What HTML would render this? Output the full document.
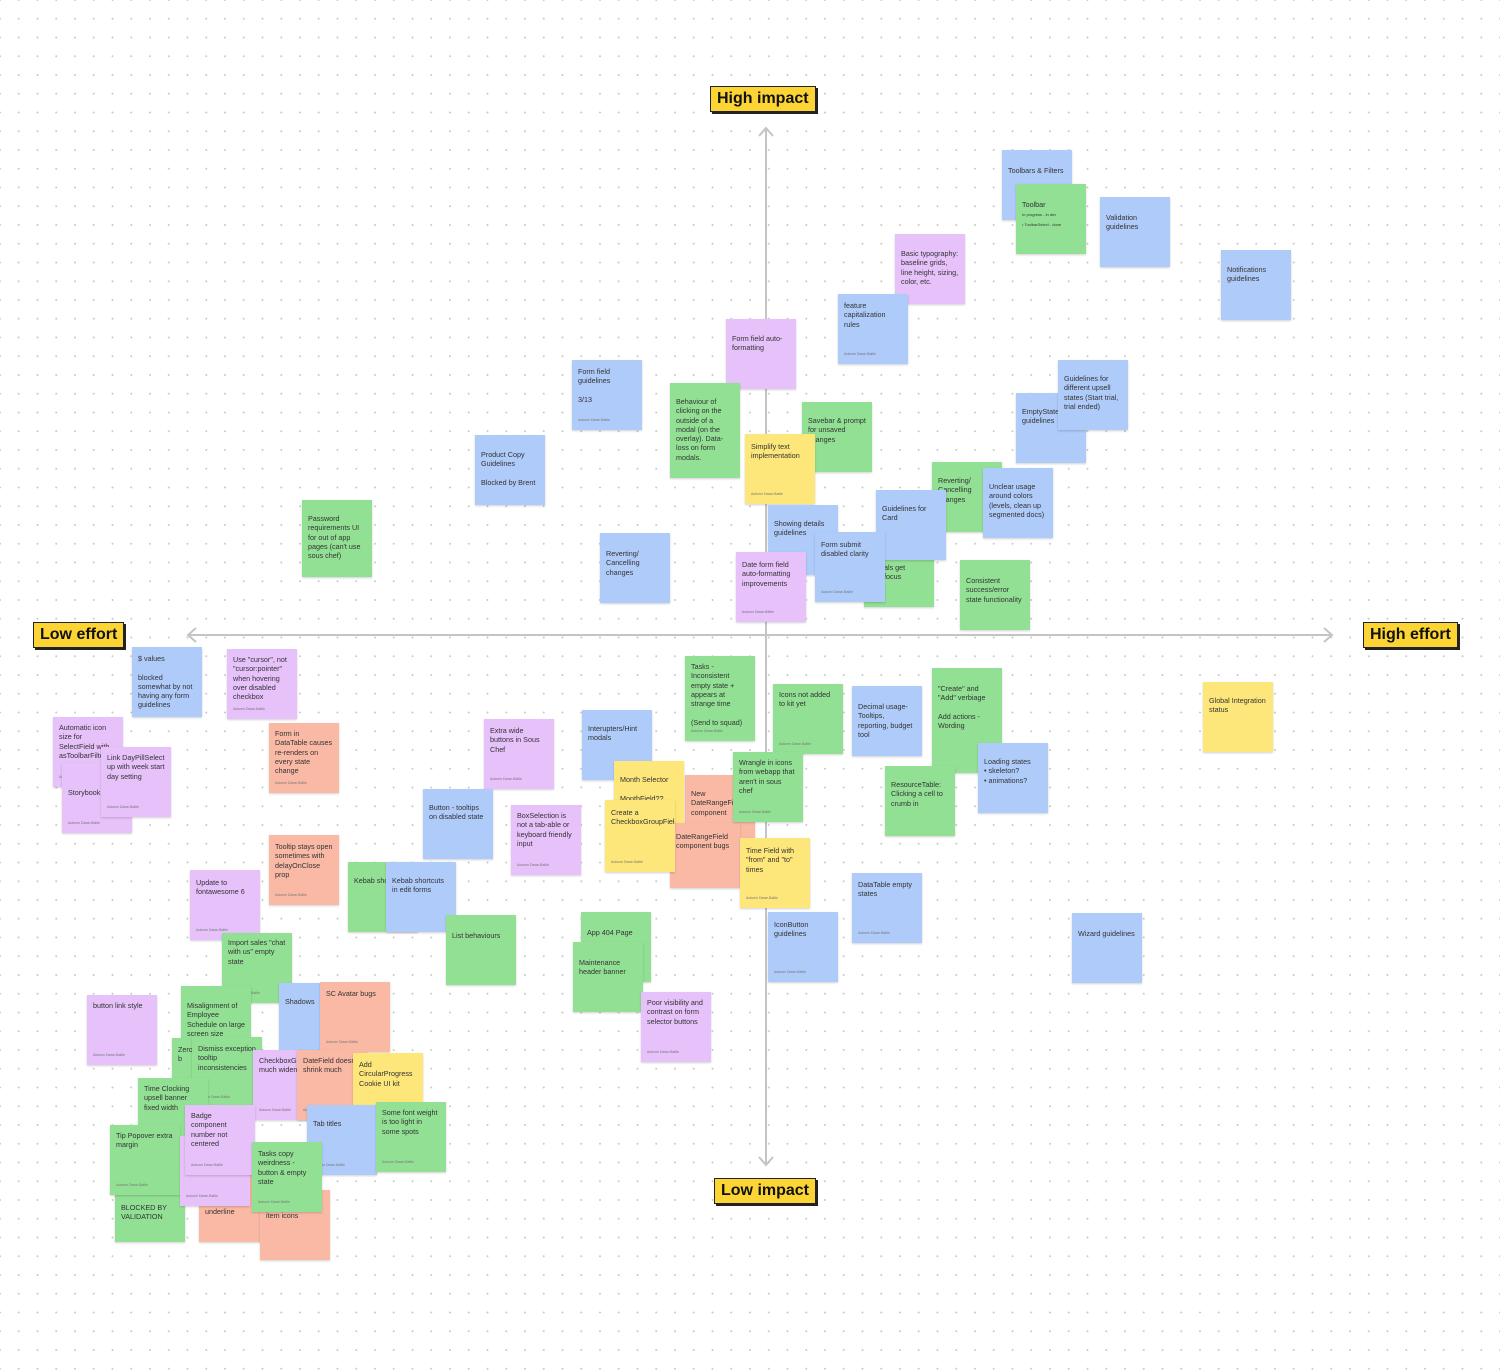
<!DOCTYPE html>
<html><head><meta charset="utf-8"><style>
html,body{margin:0;padding:0}
body{width:1500px;height:1370px;position:relative;overflow:hidden;background:#fff;font-family:"Liberation Sans",sans-serif;
background-image:radial-gradient(circle,#c9c9c9 0.8px,transparent 1.1px);background-size:18.75px 18.75px;background-position:-9.4px -9.4px}
.s{position:absolute;width:70px;height:70px;box-sizing:border-box;padding:14px 6px 8px;font-size:7.2px;line-height:9.3px;color:#333;box-shadow:0 1px 2px rgba(0,0,0,.18);white-space:pre-line;overflow:hidden}
.s i{position:absolute;left:6px;bottom:5px;font-size:3.5px;color:#777;font-style:normal}
.g{background:#92e094}.b{background:#afcbfa}.p{background:#e6c1fa}.r{background:#f9b9a5}.y{background:#fde77a}
.lab{position:absolute;background:#fcd535;border:1.5px solid #222;box-shadow:2px 2px 0 #222;font-weight:bold;font-size:16px;line-height:24px;padding:0 6px;color:#111}
</style></head><body>
<svg width="1500" height="1370" style="position:absolute;left:0;top:0">
<g stroke="#c4c4c4" stroke-width="2" fill="none">
<line x1="188" y1="635" x2="1332" y2="635"/><line x1="766" y1="128" x2="766" y2="1165"/>
<polyline points="196,628 188,635 196,642"/><polyline points="1324,628 1332,635 1324,642"/>
<polyline points="759,136 766,128 773,136"/><polyline points="759,1157 766,1165 773,1157"/>
</g></svg>

<div class="s b" style="left:1002px;top:150px;padding-top:16px">Toolbars &amp; Filters</div>
<div class="s g" style="left:1016px;top:184px;padding-top:16px">Toolbar
<span style="font-size:4px;line-height:5px">In progress - in dev
 • ToolbarSelect - done</span></div>
<div class="s b" style="left:1100px;top:197px;padding-top:16px">Validation guidelines</div>
<div class="s b" style="left:1221px;top:250px;padding-top:15px">Notifications guidelines</div>
<div class="s p" style="left:895px;top:234px;padding-top:15px">Basic typography: baseline grids, line height, sizing, color, etc.</div>
<div class="s b" style="left:838px;top:294px;padding-top:7px">feature capitalization rules<i>Autumn Dawe-Baltle</i></div>
<div class="s p" style="left:726px;top:319px;padding-top:15px">Form field auto-formatting</div>
<div class="s b" style="left:572px;top:360px;padding-top:7px">Form field guidelines

3/13<i>Autumn Dawe-Baltle</i></div>
<div class="s g" style="left:670px;top:383px;height:95px">Behaviour of clicking on the outside of a modal (on the overlay). Data-loss on form modals.</div>
<div class="s b" style="left:475px;top:435px;padding-top:15px">Product Copy Guidelines

Blocked by Brent</div>
<div class="s g" style="left:802px;top:402px">Savebar &amp; prompt for unsaved changes</div>
<div class="s y" style="left:745px;top:434px;padding-top:8px">Simplify text implementation<i>Autumn Dawe-Baltle</i></div>
<div class="s b" style="left:1016px;top:393px">EmptyState guidelines</div>
<div class="s b" style="left:1058px;top:360px">Guidelines for different upsell states (Start trial, trial ended)</div>
<div class="s g" style="left:932px;top:462px">Reverting/ Cancelling changes</div>
<div class="s b" style="left:983px;top:468px">Unclear usage around colors (levels, clean up segmented docs)</div>
<div class="s g" style="left:864px;top:537px;padding-top:26px">Modals get autofocus</div>
<div class="s b" style="left:876px;top:490px">Guidelines for Card</div>
<div class="s b" style="left:768px;top:505px">Showing details guidelines</div>
<div class="s b" style="left:815px;top:532px;padding-top:8px">Form submit disabled clarity<i>Autumn Dawe-Baltle</i></div>
<div class="s p" style="left:736px;top:552px;padding-top:8px">Date form field auto-formatting improvements<i>Autumn Dawe-Baltle</i></div>
<div class="s g" style="left:960px;top:560px;padding-top:16px">Consistent success/error state functionality</div>
<div class="s b" style="left:600px;top:533px;padding-top:16px">Reverting/ Cancelling changes</div>
<div class="s g" style="left:302px;top:500px;height:77px">Password requirements UI for out of app pages (can't use sous chef)</div>

<div class="s b" style="left:132px;top:647px;padding-top:7px">$ values

blocked somewhat by not having any form guidelines</div>
<div class="s p" style="left:227px;top:649px;padding-top:6px">Use "cursor", not "cursor:pointer" when hovering over disabled checkbox<i>Autumn Dawe-Baltle</i></div>
<div class="s p" style="left:53px;top:717px;padding-top:6px">Automatic icon size for SelectField with asToolbarFilter<i>Autumn Dawe-Baltle</i></div>
<div class="s p" style="left:62px;top:763px;padding-top:6px">

Storybook<i>Autumn Dawe-Baltle</i></div>
<div class="s p" style="left:101px;top:747px;padding-top:6px">Link DayPillSelect up with week start day setting<i>Autumn Dawe-Baltle</i></div>
<div class="s r" style="left:269px;top:723px;padding-top:6px">Form in DataTable causes re-renders on every state change<i>Autumn Dawe-Baltle</i></div>
<div class="s p" style="left:484px;top:719px;padding-top:7px">Extra wide buttons in Sous Chef<i>Autumn Dawe-Baltle</i></div>
<div class="s b" style="left:582px;top:710px">Interupters/Hint modals</div>
<div class="s b" style="left:423px;top:789px">Button - tooltips on disabled state</div>
<div class="s p" style="left:511px;top:805px;padding-top:6px">BoxSelection is not a tab-able or keyboard friendly input<i>Autumn Dawe-Baltle</i></div>
<div class="s r" style="left:269px;top:835px;padding-top:7px">Tooltip stays open sometimes with delayOnClose prop<i>Autumn Dawe-Baltle</i></div>
<div class="s p" style="left:190px;top:870px;padding-top:8px">Update to fontawesome 6<i>Autumn Dawe-Baltle</i></div>
<div class="s g" style="left:348px;top:862px">Kebab shortcuts</div>
<div class="s b" style="left:386px;top:862px">Kebab shortcuts in edit forms</div>
<div class="s g" style="left:446px;top:915px;padding-top:16px">List behaviours</div>
<div class="s g" style="left:222px;top:933px;padding-top:5px">Import sales "chat with us" empty state<i>Autumn Dawe-Baltle</i></div>
<div class="s p" style="left:87px;top:995px;padding-top:6px">button link style<i>Autumn Dawe-Baltle</i></div>
<div class="s g" style="left:581px;top:912px;padding-top:16px">App 404 Page</div>
<div class="s g" style="left:573px;top:942px;padding-top:16px">Maintenance header banner</div>
<div class="s p" style="left:641px;top:992px;padding-top:6px">Poor visibility and contrast on form selector buttons<i>Autumn Dawe-Baltle</i></div>

<div class="s b" style="left:279px;top:983px;width:45px;padding-top:14px">Shadows</div>
<div class="s g" style="left:181px;top:986px;padding-top:15px">Misalignment of Employee Schedule on large screen size</div>
<div class="s r" style="left:320px;top:982px;padding-top:7px">SC Avatar bugs<i>Autumn Dawe-Baltle</i></div>
<div class="s g" style="left:172px;top:1038px;padding-top:7px">Zero subtotal vs. b</div>
<div class="s g" style="left:192px;top:1037px;padding-top:7px">Dismiss exception tooltip inconsistencies<i>Autumn Dawe-Baltle</i></div>
<div class="s p" style="left:253px;top:1050px;padding-top:6px">CheckboxGroupField much widening<i>Autumn Dawe-Baltle</i></div>
<div class="s r" style="left:297px;top:1050px;padding-top:6px">DateField doesn't shrink much<i>Autumn Dawe-Baltle</i></div>
<div class="s y" style="left:353px;top:1053px;padding-top:7px">Add CircularProgress Cookie UI kit<i>Autumn Dawe-Baltle</i></div>
<div class="s b" style="left:307px;top:1105px">Tab titles<i>Autumn Dawe-Baltle</i></div>
<div class="s g" style="left:376px;top:1102px;padding-top:6px">Some font weight is too light in some spots<i>Autumn Dawe-Baltle</i></div>
<div class="s g" style="left:138px;top:1078px;padding-top:6px">Time Clocking upsell banner fixed width<i>Autumn Dawe-Baltle</i></div>
<div class="s g" style="left:115px;top:1172px;padding-top:12px">Notification

BLOCKED BY VALIDATION</div>
<div class="s g" style="left:110px;top:1125px;padding-top:6px">Tip Popover extra margin<i>Autumn Dawe-Baltle</i></div>
<div class="s r" style="left:199px;top:1172px;padding-top:16px">Link has blueberry underline</div>
<div class="s r" style="left:260px;top:1190px;padding-top:12px">Moving status list item icons</div>
<div class="s p" style="left:180px;top:1136px"><i>Autumn Dawe-Baltle</i></div>
<div class="s p" style="left:185px;top:1105px;padding-top:6px">Badge component number not centered<i>Autumn Dawe-Baltle</i></div>
<div class="s g" style="left:252px;top:1142px;padding-top:7px">Tasks copy weirdness - button &amp; empty state<i>Autumn Dawe-Baltle</i></div>

<div class="s g" style="left:685px;top:656px;height:85px;padding-top:6px">Tasks - Inconsistent empty state + appears at strange time

(Send to squad)<i>Autumn Dawe-Baltle</i></div>
<div class="s g" style="left:773px;top:684px;padding-top:6px">Icons not added to kit yet<i>Autumn Dawe-Baltle</i></div>
<div class="s b" style="left:852px;top:686px;padding-top:16px">Decimal usage- Tooltips, reporting, budget tool</div>
<div class="s g" style="left:932px;top:668px;height:105px;padding-top:16px">"Create" and "Add" verbiage

Add actions - Wording</div>
<div class="s b" style="left:978px;top:743px;padding-top:14px">Loading states
 • skeleton?
 • animations?</div>
<div class="s g" style="left:885px;top:766px;padding-top:14px">ResourceTable: Clicking a cell to crumb in</div>
<div class="s y" style="left:1203px;top:682px;padding-top:14px">Global Integration status</div>
<div class="s r" style="left:685px;top:775px;padding-top:14px">New DateRangeField component</div>
<div class="s y" style="left:614px;top:761px;padding-top:14px">Month Selector

MonthField??</div>
<div class="s r" style="left:670px;top:823px;height:65px;padding-top:9px">DateRangeField component bugs</div>
<div class="s y" style="left:605px;top:800px;height:72px;padding-top:8px">Create a CheckboxGroupField<i>Autumn Dawe-Baltle</i></div>
<div class="s g" style="left:733px;top:752px;padding-top:6px">Wrangle in icons from webapp that aren't in sous chef<i>Autumn Dawe-Baltle</i></div>
<div class="s y" style="left:740px;top:838px;padding-top:8px">Time Field with "from" and "to" times<i>Autumn Dawe-Baltle</i></div>
<div class="s b" style="left:852px;top:873px;padding-top:7px">DataTable empty states<i>Autumn Dawe-Baltle</i></div>
<div class="s b" style="left:768px;top:912px;padding-top:8px">IconButton guidelines<i>Autumn Dawe-Baltle</i></div>
<div class="s b" style="left:1072px;top:913px;padding-top:16px">Wizard guidelines</div>

<div class="lab" style="left:710px;top:86px">High impact</div>
<div class="lab" style="left:33px;top:622px">Low effort</div>
<div class="lab" style="left:1363px;top:622px">High effort</div>
<div class="lab" style="left:714px;top:1178px">Low impact</div>
</body></html>
